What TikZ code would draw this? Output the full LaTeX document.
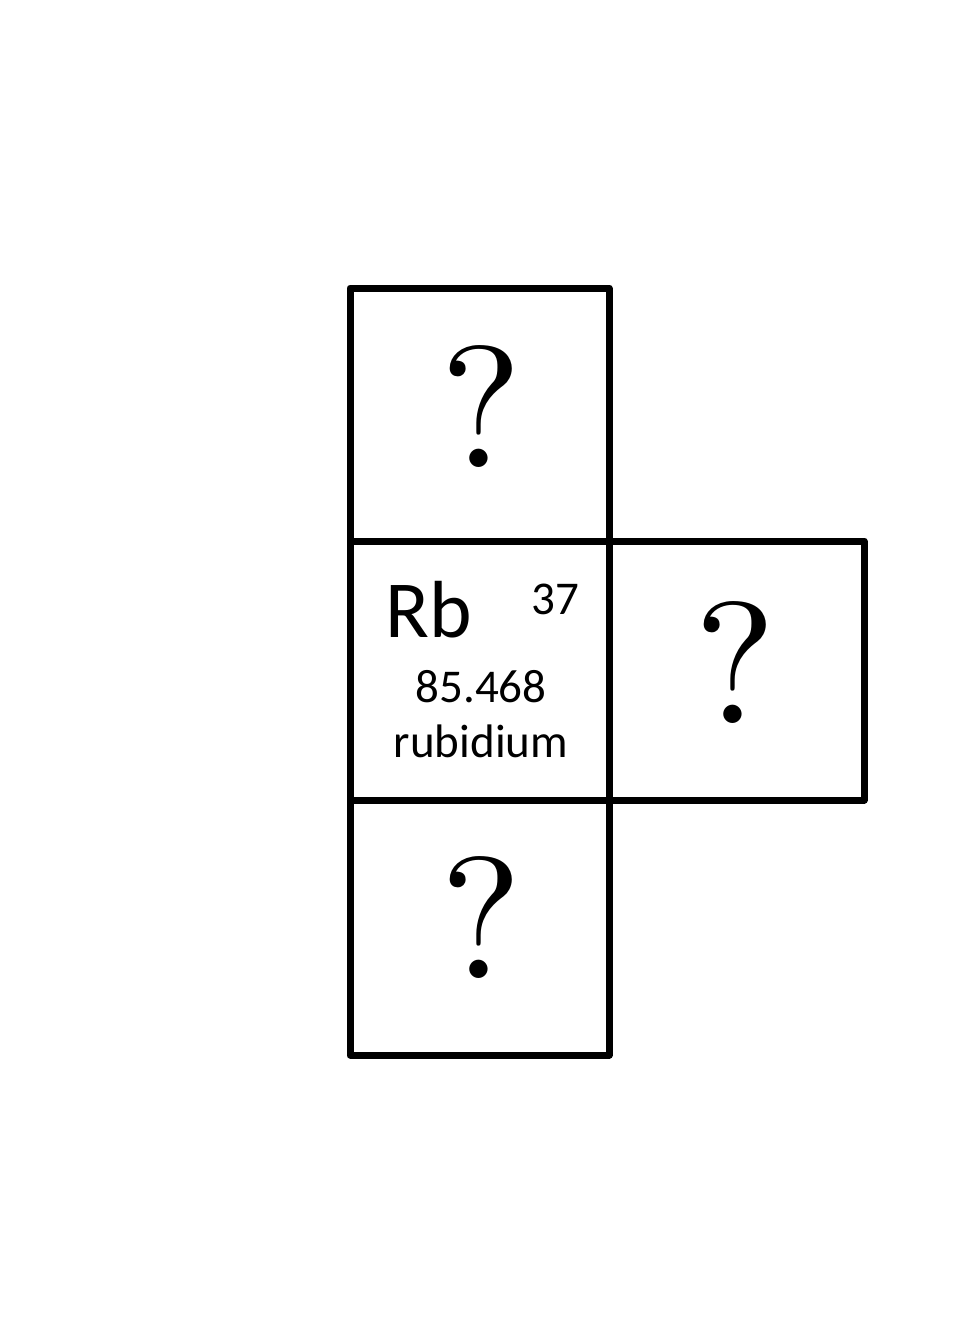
\documentclass[tikz,border=0pt]{standalone}
\usepackage{fontspec}
\newfontfamily\carlitofont{Carlito}
\newfontfamily\lmtenfont{lmroman10-regular.otf}
\begin{document}
\begin{tikzpicture}[x=1pt,y=-1pt,
  cell/.style={draw=black,line width=7pt,line join=round},
  qmark/.style={inner sep=0pt,font=\lmtenfont\fontsize{173}{173}\selectfont},
  sym/.style={inner sep=0pt,font=\carlitofont\fontsize{81}{81}\selectfont},
  small/.style={inner sep=0pt,font=\carlitofont\fontsize{47}{47}\selectfont}]
\useasboundingbox (0,0) rectangle (960,1344);
\draw[cell] (350,288) rectangle (609,541);
\draw[cell] (350,541) rectangle (609,800);
\draw[cell] (609,541) rectangle (864,800);
\draw[cell] (350,800) rectangle (609,1055);
\node[qmark] (q1) at (481,407) {?};
\node[qmark] (q2) at (735,663) {?};
\node[qmark] (q3) at (481,918) {?};
\node[sym,anchor=base west] (rb) at (385,637) {Rb};
\node[small,anchor=base west] (z) at (531,614) {37};
\node[small,anchor=base] (m) at (481,702) {85.468};
\node[small,anchor=base] (n) at (481,757) {rubidium};
\end{tikzpicture}
\end{document}
